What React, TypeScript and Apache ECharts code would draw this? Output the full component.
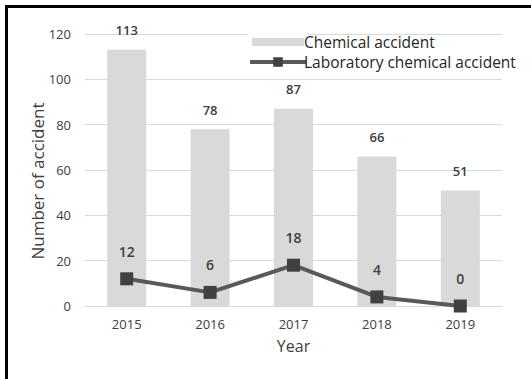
import React, { useEffect, useRef } from "react";
import * as echarts from "echarts";

const years = ["2015", "2016", "2017", "2018", "2019"];
const chemicalAccidents = [113, 78, 87, 66, 51];
const labAccidents = [12, 6, 18, 4, 0];

const FONT = "'Open Sans', sans-serif";

export default function App() {
  const ref = useRef<HTMLDivElement>(null);
  useEffect(() => {
    if (!ref.current) return;
    const chart = echarts.init(ref.current, null, { renderer: "svg" });
    chart.setOption({
      animation: false,
      backgroundColor: "#ffffff",
      textStyle: { fontFamily: FONT },
      graphic: [
        { type: "rect", shape: { x: 5, y: 5, width: 3, height: 374 }, style: { fill: "#000" } },
        { type: "rect", shape: { x: 5, y: 5, width: 526, height: 3 }, style: { fill: "#000" } },
      ],
      legend: {
        orient: "vertical",
        left: 243,
        top: 29,
        itemWidth: 56,
        itemHeight: 12,
        itemGap: 4,
        textStyle: { fontFamily: FONT, fontSize: 15.5, color: "#262626", padding: [0, 0, 0, -7] },
        data: [
          {
            name: "Chemical accident",
            icon: "rect",
            itemStyle: { color: "#d9d9d9", borderColor: "#ffffff", borderWidth: 4 },
          },
          {
            name: "Laboratory chemical accident",
            lineStyle: { color: "#595959", width: 4 },
          },
        ],
      },
      grid: { left: 85, right: 29, top: 34, bottom: 73 },
      xAxis: {
        type: "category",
        data: years,
        name: "Year",
        nameLocation: "middle",
        nameGap: 32,
        nameMoveOverlap: false,
        nameTextStyle: { fontFamily: FONT, fontSize: 16, color: "#404040" },
        axisLine: { lineStyle: { color: "#d9d9d9" } },
        axisTick: { show: false },
        axisLabel: { fontFamily: FONT, fontSize: 13, color: "#404040", margin: 11 },
      },
      yAxis: {
        type: "value",
        min: 0,
        max: 120,
        interval: 20,
        name: "Number of accident",
        nameLocation: "middle",
        nameGap: 39,
        nameMoveOverlap: false,
        nameTextStyle: { fontFamily: FONT, fontSize: 17, color: "#404040", padding: [0, 22, 0, 0] },
        axisLabel: { fontFamily: FONT, fontSize: 13, color: "#404040", margin: 14 },
        splitLine: { lineStyle: { color: "#d9d9d9" } },
      },
      series: [
        {
          name: "Chemical accident",
          type: "bar",
          data: chemicalAccidents,
          barWidth: 39,
          itemStyle: { color: "#d9d9d9" },
          label: {
            show: true,
            position: "top",
            distance: 13,
            fontFamily: FONT,
            fontSize: 13,
            fontWeight: 600,
            color: "#404040",
          },
        },
        {
          name: "Laboratory chemical accident",
          type: "line",
          data: labAccidents,
          symbol: "rect",
          symbolSize: 13,
          lineStyle: { color: "#595959", width: 4 },
          itemStyle: { color: "#404040" },
          label: {
            show: true,
            position: "top",
            distance: 14,
            fontFamily: FONT,
            fontSize: 14,
            fontWeight: 600,
            color: "#404040",
          },
        },
      ],
    });
    return () => chart.dispose();
  }, []);
  return (
    <div
      ref={ref}
      style={{ position: "absolute", left: 0, top: 0, width: 531, height: 379 }}
    />
  );
}
